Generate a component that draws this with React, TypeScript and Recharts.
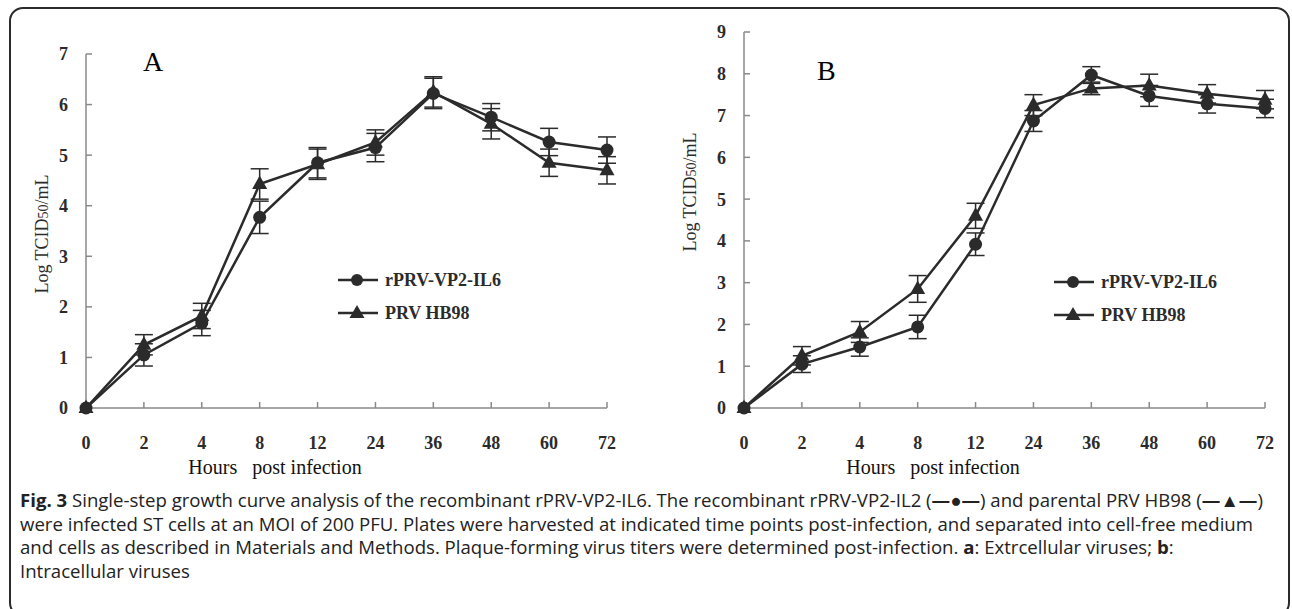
import { ErrorBar, Legend, Line, LineChart, XAxis, YAxis } from "recharts";

// hours post infection (categorical, evenly spaced)
const hours = ["0", "2", "4", "8", "12", "24", "36", "48", "60", "72"];

// A: extracellular virus, Log TCID50/mL
const aRprv = [0, 1.05, 1.68, 3.77, 4.85, 5.15, 6.22, 5.75, 5.26, 5.1];
const aRprvErr = [0, 0.22, 0.25, 0.32, 0.3, 0.28, 0.3, 0.27, 0.27, 0.26];
const aHb98 = [0, 1.25, 1.82, 4.43, 4.82, 5.25, 6.25, 5.62, 4.85, 4.7];
const aHb98Err = [0, 0.2, 0.25, 0.3, 0.3, 0.25, 0.3, 0.3, 0.27, 0.27];

// B: intracellular virus
const bRprv = [0, 1.05, 1.46, 1.94, 3.92, 6.87, 7.97, 7.47, 7.28, 7.17];
const bRprvErr = [0, 0.2, 0.22, 0.28, 0.27, 0.25, 0.2, 0.25, 0.22, 0.22];
const bHb98 = [0, 1.25, 1.82, 2.85, 4.6, 7.25, 7.65, 7.72, 7.52, 7.38];
const bHb98Err = [0, 0.22, 0.25, 0.32, 0.3, 0.25, 0.15, 0.27, 0.22, 0.22];

const ticksA = [0, 1, 2, 3, 4, 5, 6, 7];
const ticksB = [0, 1, 2, 3, 4, 5, 6, 7, 8, 9];

const seriesNames = ["rPRV-VP2-IL6", "PRV HB98"];

const INK = "#2b2b2b";
const AXIS = "#8a8a8a";
const SERIF = "'Liberation Serif', 'Times New Roman', serif";

const build = (r: number[], rErr: number[], h: number[], hErr: number[]) =>
  hours.map((hr, i) => ({ hr, rprv: r[i], rprvErr: rErr[i], hb98: h[i], hb98Err: hErr[i] }));

const dataA = build(aRprv, aRprvErr, aHb98, aHb98Err);
const dataB = build(bRprv, bRprvErr, bHb98, bHb98Err);

const CircleDot = (p: any) => {
  if (p.cx == null || p.cy == null) return null;
  return <circle key={p.key} cx={p.cx} cy={p.cy} r={6.5} fill={INK} />;
};

const TriDot = (p: any) => {
  if (p.cx == null || p.cy == null) return null;
  const { cx, cy } = p;
  return (
    <polygon
      key={p.key}
      points={`${cx},${cy - 8.5} ${cx - 7.5},${cy + 5} ${cx + 7.5},${cy + 5}`}
      fill={INK}
    />
  );
};

function LegendBox() {
  return (
    <svg width={220} height={70}>
      {seriesNames.map((name, i) => {
        const y = 15 + i * 33;
        return (
          <g key={name}>
            <line x1={0} x2={40} y1={y} y2={y} stroke={INK} strokeWidth={2.5} />
            {i === 0 ? (
              <circle cx={19} cy={y} r={6} fill={INK} />
            ) : (
              <polygon points={`19,${y - 8} 11.5,${y + 5} 26.5,${y + 5}`} fill={INK} />
            )}
            <text
              x={47}
              y={y + 6}
              fontFamily={SERIF}
              fontWeight="bold"
              fontSize={18}
              fill={INK}
            >
              {name}
            </text>
          </g>
        );
      })}
    </svg>
  );
}

function Panel({
  data,
  ticks,
  width,
  yAxisWidth,
  marginRight,
  marginTop,
  legendLeft,
  legendTop,
}: {
  data: ReturnType<typeof build>;
  ticks: number[];
  width: number;
  yAxisWidth: number;
  marginRight: number;
  marginTop: number;
  legendLeft: number;
  legendTop: number;
}) {
  const tickStyle = { fontSize: 18, fontWeight: "bold" as const, fill: INK, fontFamily: SERIF };
  return (
    <LineChart
      width={width}
      height={460}
      data={data}
      margin={{ top: marginTop, right: marginRight, left: 0, bottom: 12 }}
    >
      <XAxis
        dataKey="hr"
        height={40}
        padding={{ left: 0, right: 0 }}
        tick={tickStyle}
        tickSize={-6}
        tickMargin={34}
        axisLine={{ stroke: AXIS, strokeWidth: 1.5 }}
        tickLine={{ stroke: AXIS, strokeWidth: 1.5 }}
        interval={0}
      />
      <YAxis
        type="number"
        domain={[0, ticks[ticks.length - 1]]}
        ticks={ticks}
        width={yAxisWidth}
        tick={tickStyle}
        tickSize={-6}
        tickMargin={24}
        axisLine={{ stroke: AXIS, strokeWidth: 1.5 }}
        tickLine={{ stroke: AXIS, strokeWidth: 1.5 }}
        interval={0}
      />
      <Legend
        layout="vertical"
        align="center"
        verticalAlign="middle"
        content={() => <LegendBox />}
        wrapperStyle={{ left: legendLeft, top: legendTop, width: 220 }}
      />
      <Line
        dataKey="rprv"
        name={seriesNames[0]}
        stroke={INK}
        strokeWidth={2.5}
        dot={CircleDot}
        activeDot={false}
        isAnimationActive={false}
      >
        <ErrorBar dataKey="rprvErr" width={9} strokeWidth={1.5} stroke={INK} direction="y" />
      </Line>
      <Line
        dataKey="hb98"
        name={seriesNames[1]}
        stroke={INK}
        strokeWidth={2.5}
        dot={TriDot}
        activeDot={false}
        isAnimationActive={false}
      >
        <ErrorBar dataKey="hb98Err" width={9} strokeWidth={1.5} stroke={INK} direction="y" />
      </Line>
    </LineChart>
  );
}

const YTitle = ({ x, y }: { x: number; y: number }) => (
  <div
    style={{
      position: "absolute",
      left: x,
      top: y,
      transform: "translate(-50%, -50%) rotate(-90deg)",
      whiteSpace: "nowrap",
      fontFamily: SERIF,
      fontSize: 18,
      color: INK,
    }}
  >
    Log TCID<span style={{ fontSize: 14 }}>50</span>/mL
  </div>
);

const XTitle = ({ x, y }: { x: number; y: number }) => (
  <div
    style={{
      position: "absolute",
      left: x,
      top: y,
      transform: "translate(-50%, -50%)",
      whiteSpace: "pre",
      fontFamily: SERIF,
      fontSize: 20,
      color: "#111",
    }}
  >
    {"Hours   post infection"}
  </div>
);

const captionLines = [
  <>
    <b>Fig. 3</b> Single-step growth curve analysis of the recombinant rPRV-VP2-IL6. The recombinant
    rPRV-VP2-IL2 (<b>—●—</b>) and parental PRV HB98 (<b>—▲—</b>)
  </>,
  <>
    were infected ST cells at an MOI of 200 PFU. Plates were harvested at indicated time points
    post-infection, and separated into cell-free medium
  </>,
  <>
    and cells as described in Materials and Methods. Plaque-forming virus titers were determined
    post-infection. <b>a</b>: Extrcellular viruses; <b>b</b>:
  </>,
  <>Intracellular viruses</>,
];

export default function App() {
  return (
    <div
      style={{
        position: "absolute",
        left: 0,
        top: 0,
        width: 1292,
        height: 609,
        background: "#fff",
        overflow: "hidden",
      }}
    >
      <div
        style={{
          position: "absolute",
          left: 9,
          top: 7,
          width: 1281,
          height: 610,
          border: `2px solid ${INK}`,
          borderRadius: 14,
          boxSizing: "border-box",
        }}
      />
      <div style={{ position: "absolute", left: 0, top: 0 }}>
        <Panel
          data={dataA}
          ticks={ticksA}
          width={640}
          yAxisWidth={86}
          marginRight={33}
          marginTop={54}
          legendLeft={338}
          legendTop={265}
        />
      </div>
      <div style={{ position: "absolute", left: 640, top: 0 }}>
        <Panel
          data={dataB}
          ticks={ticksB}
          width={652}
          yAxisWidth={104}
          marginRight={27}
          marginTop={32}
          legendLeft={414}
          legendTop={267}
        />
      </div>
      <div style={{ position: "absolute", left: 143, top: 48, fontFamily: SERIF, fontSize: 28, lineHeight: 1 }}>
        A
      </div>
      <div style={{ position: "absolute", left: 817, top: 57, fontFamily: SERIF, fontSize: 28, lineHeight: 1 }}>
        B
      </div>
      <YTitle x={42} y={234} />
      <YTitle x={690} y={192} />
      <XTitle x={275} y={467} />
      <XTitle x={933} y={467} />
      <div
        style={{
          position: "absolute",
          left: 20,
          top: 488,
          fontFamily: "'Open Sans', sans-serif",
          fontSize: 18.6,
          lineHeight: "23.5px",
          color: "#222",
        }}
      >
        {captionLines.map((l, i) => (
          <div key={i} style={{ whiteSpace: "nowrap" }}>
            {l}
          </div>
        ))}
      </div>
    </div>
  );
}
